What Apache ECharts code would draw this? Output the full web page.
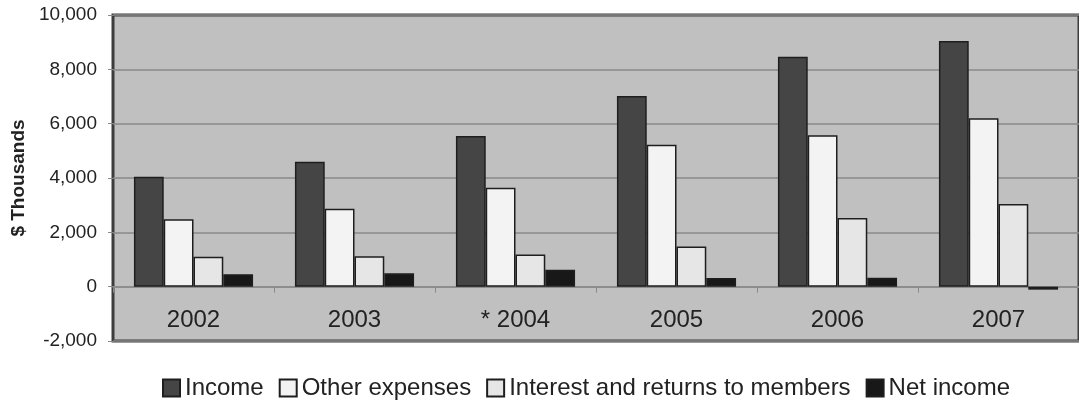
<!DOCTYPE html>
<html>
<head>
<meta charset="utf-8">
<script src="https://cdn.jsdelivr.net/npm/echarts@6/dist/echarts.min.js"></script>
<style>
html,body{margin:0;padding:0;background:#fff;}
#chart{width:1079px;height:403px;}
</style>
</head>
<body>
<div id="chart"></div>
<script>
const categories = ['2002', '2003', '* 2004', '2005', '2006', '2007'];
const seriesNames = ['Income', 'Other expenses', 'Interest and returns to members', 'Net income'];
const income = [4050, 4600, 5550, 7020, 8460, 9040];
const otherExpenses = [2480, 2870, 3640, 5220, 5570, 6200];
const interestReturns = [1100, 1120, 1180, 1480, 2530, 3040];
const netIncome = [460, 490, 620, 320, 330, -110];
const yMin = -2000, yMax = 10000, yStep = 2000;

const fills = ['#454545', '#f3f3f3', '#e6e6e6', '#181818'];
const values = [income, otherExpenses, interestReturns, netIncome];
const FONT = '"Liberation Sans", Arial, sans-serif';

const chart = echarts.init(document.getElementById('chart'), null, {renderer: 'canvas'});
chart.setOption({
  animation: false,
  backgroundColor: '#ffffff',
  textStyle: {fontFamily: FONT, color: '#222'},
  grid: {
    left: 113, top: 15, right: -6, bottom: 62,
    show: true, backgroundColor: '#c0c0c0',
    borderColor: '#3c3c3c', borderWidth: 3
  },
  legend: {
    data: seriesNames,
    left: 157, top: 371,
    itemWidth: 17, itemHeight: 17, itemGap: 15,
    textStyle: {fontFamily: FONT, fontSize: 24, color: '#222'},
    icon: 'rect'
  },
  xAxis: {
    type: 'category',
    data: categories,
    axisLine: {onZero: true, lineStyle: {color: '#8a8a8a', width: 1.5}},
    axisTick: {show: true, length: 6, lineStyle: {color: '#8a8a8a'}},
    axisLabel: {fontFamily: FONT, fontSize: 24, color: '#222', margin: -33}
  },
  yAxis: {
    type: 'value',
    min: yMin, max: yMax, interval: yStep,
    name: '$ Thousands',
    nameLocation: 'middle',
    nameRotate: 90,
    nameGap: 84,
    nameTextStyle: {fontFamily: FONT, fontSize: 19, fontWeight: 'bold', color: '#222'},
    axisLine: {show: false},
    axisTick: {show: true, length: 5, lineStyle: {color: '#8a8a8a'}},
    axisLabel: {
      fontFamily: FONT, fontSize: 19, color: '#222', margin: 16,
      formatter: v => v.toLocaleString('en-US')
    },
    splitLine: {show: true, lineStyle: {color: '#8a8a8a', width: 1.5}}
  },
  series: seriesNames.map((name, i) => ({
    name: name,
    type: 'bar',
    data: values[i],
    barGap: '0%',
    barCategoryGap: '26%',
    itemStyle: {color: fills[i], borderColor: '#1e1e1e', borderWidth: 1.5}
  }))
});
</script>
</body>
</html>
